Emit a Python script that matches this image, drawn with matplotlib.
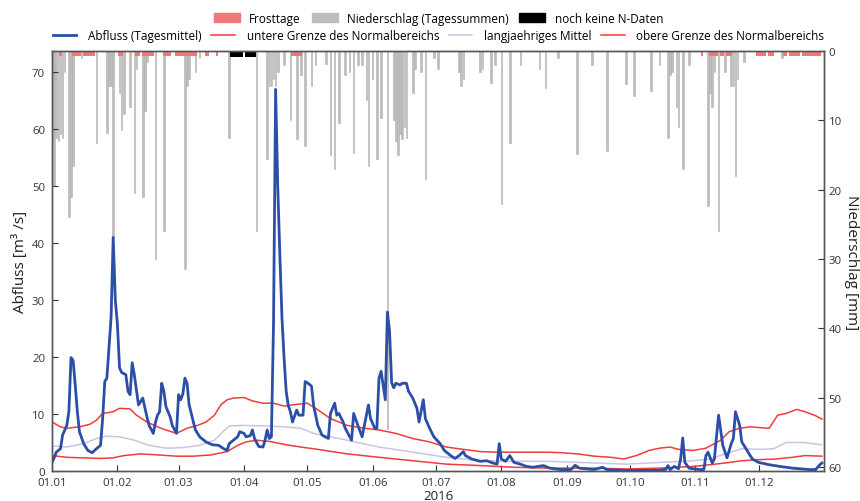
import matplotlib
matplotlib.use("Agg")
import matplotlib.pyplot as plt
import matplotlib.dates as mdates
from matplotlib.patches import Patch
from matplotlib.lines import Line2D
import pandas as pd

plt.rcParams['font.family'] = ['Open Sans', 'DejaVu Sans']

BASE = pd.Timestamp('2016-01-01')

# Abfluss (Tagesmittel) : day of year (0 = 01.01.) and m3/s
q_day = [0, 1, 2, 4, 5, 7, 8, 9, 10, 11, 12, 13, 15, 17, 19, 21, 23, 24, 25, 26, 28, 29, 30, 31, 32, 33, 35,
         36, 37, 38, 39, 41, 42, 43, 45, 46, 48, 49, 50, 51, 52, 53, 54, 56, 57, 59, 60, 61, 62, 63, 64, 65,
         67, 68, 70, 73, 76, 79, 81, 83, 84, 86, 88, 89, 91, 92, 94, 95, 96, 98, 100, 101, 102, 103, 104,
         105, 106, 107, 108, 109, 110, 111, 112, 113, 114, 116, 117, 119, 120, 121, 123, 124, 126, 128,
         131, 132, 134, 135, 136, 138, 139, 142, 143, 145, 147, 150, 151, 153, 154, 155, 156, 158, 159,
         160, 161, 162, 163, 165, 166, 168, 169, 171, 173, 174, 176, 177, 179, 181, 184, 186, 189, 191,
         193, 195, 196, 199, 203, 206, 209, 211, 212, 213, 215, 217, 219, 222, 225, 228, 233, 236, 241,
         246, 248, 250, 257, 261, 263, 272, 288, 291, 292, 293, 295, 297, 298, 299, 300, 302, 307, 309,
         310, 311, 313, 314, 316, 318, 320, 322, 323, 324, 326, 327, 330, 332, 335, 340, 345, 351, 359,
         362, 364, 365]
q_val = [1.5, 2.3, 3.3, 3.9, 6.3, 8.0, 10.5, 19.9, 19.4, 15.1, 10.4, 6.9, 4.8, 3.6, 3.2, 3.9, 4.5, 9.2, 15.7,
         16.3, 27.0, 41.0, 30.0, 25.8, 18.1, 17.3, 16.9, 14.0, 13.4, 19.0, 16.9, 11.6, 12.2, 12.8, 9.5, 8.0,
         6.6, 8.5, 9.8, 10.4, 15.4, 14.0, 11.3, 9.5, 8.0, 6.6, 13.4, 12.5, 13.5, 16.3, 15.4, 11.6, 8.6, 7.2,
         6.0, 5.1, 4.6, 4.5, 4.0, 3.6, 4.8, 5.4, 6.0, 6.9, 6.6, 6.0, 6.2, 7.2, 5.7, 4.3, 4.2, 5.4, 7.2, 5.7,
         6.0, 25.8, 67.0, 50.0, 38.0, 27.0, 19.9, 14.0, 11.5, 10.4, 8.6, 10.7, 9.8, 9.8, 15.7, 15.5, 14.9,
         11.5, 8.0, 6.3, 5.7, 10.1, 11.9, 9.8, 10.1, 8.6, 7.5, 5.4, 10.1, 8.0, 6.0, 11.6, 9.2, 7.5, 7.5,
         16.3, 17.5, 12.5, 27.9, 24.6, 15.5, 14.6, 15.4, 15.1, 15.4, 15.4, 14.0, 12.8, 11.0, 8.6, 12.5, 9.2,
         7.5, 6.0, 4.8, 3.6, 2.7, 2.2, 2.7, 3.4, 2.7, 2.1, 1.7, 1.8, 1.4, 1.2, 4.8, 2.1, 1.7, 2.7, 1.5, 1.2,
         0.8, 0.65, 0.95, 0.5, 0.25, 0.25, 1.0, 0.5, 0.25, 0.65, 0.25, 0.1, 0.1, 0.3, 0.95, 0.25, 0.8, 0.4,
         2.1, 5.8, 1.5, 0.5, 0.25, 0.25, 2.7, 3.3, 1.4, 2.1, 9.8, 4.5, 2.3, 4.8, 5.7, 10.4, 8.0, 5.1, 3.3,
         2.1, 1.5, 1.1, 0.8, 0.5, 0.25, 0.25, 1.1, 1.4]

# Normalbereich (untere Grenze / langjaehriges Mittel / obere Grenze)
up_day = [0, 4, 7, 13, 18, 21, 24, 29, 32, 37, 40, 45, 50, 54, 59, 64, 69, 73, 77, 80, 83, 86, 91, 95, 100,
          105, 110, 114, 121, 125, 132, 140, 148, 155, 163, 171, 179, 187, 195, 203, 211, 219, 227, 235,
          242, 249, 257, 265, 271, 277, 283, 288, 293, 297, 304, 310, 317, 321, 326, 331, 336, 340, 344,
          348, 353, 357, 362, 365]
up_val = [8.6, 7.75, 7.5, 7.75, 8.2, 8.9, 10.1, 10.4, 11.0, 10.9, 9.8, 8.6, 7.75, 7.2, 6.6, 7.5, 8.0, 8.6,
          9.8, 11.6, 12.5, 12.8, 12.9, 12.3, 11.9, 11.9, 11.4, 11.6, 11.9, 11.0, 9.2, 8.0, 7.5, 7.2, 6.6,
          5.7, 5.1, 4.2, 3.8, 3.4, 3.3, 3.3, 3.3, 3.3, 3.2, 3.0, 2.6, 2.4, 2.1, 2.7, 3.6, 4.0, 4.2, 3.8,
          3.6, 4.0, 5.4, 6.9, 7.5, 7.75, 7.6, 7.5, 9.8, 10.1, 10.8, 10.4, 9.7, 9.1]
mean_day = [0, 7, 15, 21, 26, 32, 39, 46, 54, 62, 70, 77, 81, 84, 91, 102, 110, 118, 124, 140, 155, 171,
            187, 203, 219, 235, 250, 257, 272, 288, 304, 312, 319, 327, 336, 342, 348, 356, 365]
mean_val = [4.4, 4.2, 4.8, 5.7, 6.1, 6.0, 5.4, 4.5, 4.0, 4.1, 4.5, 5.4, 6.9, 7.9, 8.0, 7.9, 7.75, 7.5, 6.6,
            5.4, 4.2, 3.3, 2.4, 1.8, 1.7, 1.7, 1.5, 1.4, 1.2, 1.5, 1.8, 2.1, 3.0, 3.9, 3.8, 3.9, 5.0, 5.0,
            4.6]
lo_day = [0, 7, 15, 23, 29, 34, 42, 51, 59, 67, 75, 83, 88, 92, 97, 103, 111, 118, 124, 140, 155, 171, 187,
          203, 219, 235, 250, 257, 272, 288, 304, 312, 319, 327, 336, 343, 351, 357, 365]
lo_val = [2.7, 2.4, 2.3, 2.2, 2.3, 2.7, 3.0, 2.8, 2.6, 2.6, 2.8, 3.4, 4.5, 5.1, 5.4, 5.2, 4.6, 4.2, 3.9, 3.0,
          2.4, 1.8, 1.2, 0.95, 0.65, 0.5, 0.5, 0.5, 0.35, 0.5, 0.8, 1.1, 1.4, 1.8, 2.0, 2.1, 2.4, 2.7, 2.6]

# Niederschlag (Tagessummen) in mm
p_day = [0, 1, 2, 3, 4, 5, 6, 8, 9, 10, 14, 21, 26, 27, 28, 29, 32, 33, 34, 37, 39, 40, 43, 44, 45, 49, 53,
         63, 64, 65, 68, 70, 84, 97, 102, 103, 104, 105, 106, 107, 110, 113, 116, 118, 120, 123, 125, 130,
         132, 134, 136, 139, 141, 143, 145, 147, 149, 150, 152, 154, 156, 159, 162, 163, 164, 165, 166, 167,
         168, 171, 172, 175, 177, 181, 183, 193, 194, 195, 203, 204, 208, 210, 213, 217, 222, 231, 234,
         240, 249, 256, 263, 272, 276, 284, 288, 292, 293, 294, 296, 297, 299, 302, 311, 312, 313, 314,
         316, 319, 322, 323, 324, 325, 328, 346]
p_val = [13.0, 19.5, 12.5, 13.0, 12.0, 12.5, 3.0, 24.0, 21.0, 16.5, 1.0, 13.3, 11.8, 5.0, 5.0, 27.0, 6.0,
         11.4, 9.0, 8.0, 20.5, 2.5, 21.0, 8.6, 1.5, 30.0, 26.0, 31.5, 5.0, 4.0, 3.0, 1.0, 12.5, 26.0, 15.5,
         5.0, 5.0, 4.0, 5.0, 3.0, 2.0, 10.0, 12.7, 3.5, 13.7, 5.0, 2.0, 1.8, 15.0, 17.0, 10.3, 3.5, 3.0,
         14.7, 2.0, 2.0, 7.0, 16.5, 4.0, 15.5, 9.7, 54.5, 10.0, 13.0, 15.0, 12.0, 12.7, 11.0, 12.5, 6.0,
         2.5, 3.0, 18.5, 1.0, 2.6, 3.0, 5.0, 4.0, 3.0, 2.5, 4.6, 2.0, 22.0, 13.3, 2.0, 2.5, 5.3, 1.0, 14.8,
         2.0, 14.4, 4.8, 6.5, 5.7, 2.0, 12.5, 3.5, 3.0, 8.0, 11.0, 17.0, 2.0, 22.3, 6.0, 8.0, 3.0, 26.0,
         3.0, 5.0, 5.0, 18.0, 4.0, 1.5, 1.0]

# Frosttage and days without precipitation data
frost_day = [0, 4, 10, 11, 12, 13, 15, 16, 17, 18, 19, 20, 32, 33, 40, 41, 43, 44, 45, 46, 47, 48, 53, 54,
             55, 56, 59, 60, 61, 62, 63, 64, 65, 66, 67, 68, 73, 74, 78, 114, 115, 116, 117, 118, 308, 312,
             313, 314, 315, 317, 318, 320, 321, 322, 334, 335, 336, 337, 338, 340, 341, 342, 347, 348,
             350, 351, 352, 353, 354, 356, 357, 358, 359, 360, 361, 362, 363, 364]
nodata_day = [85, 86, 87, 88, 89, 90, 92, 93, 94, 95, 96]

month_ticks = pd.date_range('2016-01-01', '2016-12-01', freq='MS')


def to_dates(days):
    return BASE + pd.to_timedelta(days, unit='D')


fig = plt.figure(figsize=(8.6, 5.02), dpi=100)
ax = fig.add_axes([0.0605, 0.0598, 0.8975, 0.8362])
ax2 = ax.twinx()

c_q = '#2b4ea6'
c_red = '#f03c3c'
c_mean = '#c8c4e6'
c_frost = '#f27878'
c_prec = '#bdbdbd'

ax2.bar(to_dates(p_day), p_val, width=0.75, color=c_prec, edgecolor='#b5afaf', linewidth=0.4)
ax2.bar(to_dates(frost_day), [0.75] * len(frost_day), width=1.0, color=c_frost, linewidth=0)
ax2.bar(to_dates(nodata_day), [0.8] * len(nodata_day), width=1.0, color='black', linewidth=0)
ax2.set_ylim(60.6, 0)

ax.plot(to_dates(mean_day), mean_val, color=c_mean, lw=1.1)
ax.plot(to_dates(lo_day), lo_val, color=c_red, lw=1.1)
ax.plot(to_dates(up_day), up_val, color=c_red, lw=1.1)
ax.plot(to_dates(q_day), q_val, color=c_q, lw=2.0)
ax.set_ylim(0, 73.7)
ax.set_zorder(ax2.get_zorder() + 1)
ax.patch.set_visible(False)

ax.set_xlim(BASE, pd.Timestamp('2016-12-31 22:00'))
ax.set_xticks(month_ticks)
ax.xaxis.set_major_formatter(mdates.DateFormatter('%d.%m'))
ax.set_yticks(range(0, 71, 10))
ax2.set_yticks(range(0, 61, 10))

for a in (ax, ax2):
    a.tick_params(direction='in', length=4, width=0.8, labelsize=8.2, colors='#333333')
    for s in a.spines.values():
        s.set_color('#555555')
        s.set_linewidth(1.0)
ax.tick_params(axis='x', pad=4)
ax.tick_params(axis='y', pad=5)

ax.set_ylabel('Abfluss [m³ /s]', fontsize=11, color='#222222', labelpad=3)
ax2.set_ylabel('Niederschlag [mm]', fontsize=11, color='#222222', rotation=270, labelpad=12)
ax.set_xlabel('2016', fontsize=9.5, color='#222222', labelpad=1)

h1 = [Patch(color=c_frost), Patch(color=c_prec), Patch(color='black')]
l1 = ['Frosttage', 'Niederschlag (Tagessummen)', 'noch keine N-Daten']
fig.legend(h1, l1, loc='center', bbox_to_anchor=(0.51, 0.962), ncol=3, frameon=False,
           fontsize=8.5, handlelength=2.2, handleheight=0.7, columnspacing=0.9, handletextpad=0.8,
           borderpad=0.1)
h2 = [Line2D([], [], color=c_q, lw=2), Line2D([], [], color=c_red, lw=1.1),
      Line2D([], [], color=c_mean, lw=1.1), Line2D([], [], color=c_red, lw=1.1)]
l2 = ['Abfluss (Tagesmittel)', 'untere Grenze des Normalbereichs', 'langjaehriges Mittel',
      'obere Grenze des Normalbereichs']
fig.legend(h2, l2, loc='center', bbox_to_anchor=(0.51, 0.928), ncol=4, frameon=False,
           fontsize=8.5, handlelength=2.0, columnspacing=0.8, handletextpad=1.0, borderpad=0.1)

fig.savefig('out.png', dpi=100)
